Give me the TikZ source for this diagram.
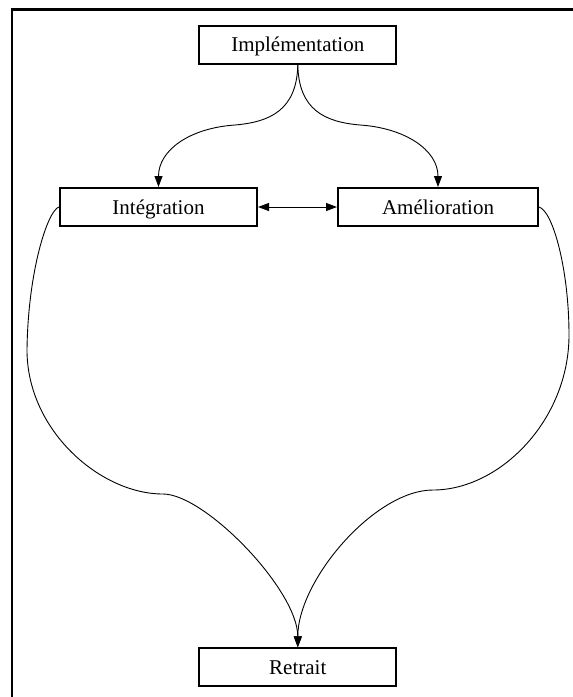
\documentclass[tikz,border=0pt]{standalone}
\usepackage{fontspec}
\setmainfont{Liberation Serif}
\usetikzlibrary{arrows.meta}
\begin{document}
\begin{tikzpicture}[x=1pt,y=-1pt,
  box/.style={draw,line width=2pt,minimum width=197pt,minimum height=38pt,inner sep=0pt,
    text height=17pt,text depth=3pt,
    font=\fontsize{21}{25}\selectfont},
  conn/.style={line width=0.9pt,-{Triangle[length=11pt,width=8pt]}},
  frame/.style={line width=2.6pt}]
\useasboundingbox (0,0) rectangle (573,697);
\coordinate (fa) at (12,697);
\coordinate (fb) at (12,9.5);
\coordinate (fc) at (573,9.5);
\draw[frame] (fa) -- (fb) -- (fc);
\node[box] (impl) at (297.8,44.5) {Implémentation};
\node[box] (integ) at (158.5,207) {Intégration};
\node[box,minimum width=200pt] (amel) at (438,207) {Amélioration};
\node[box] (retr) at (297.8,667.3) {Retrait};
\draw[conn] (impl.south) .. controls (297,110) and (270,122) .. (235,125)
  .. controls (190,128) and (158.5,150) .. (integ.north);
\draw[conn] (impl.south) .. controls (298.5,110) and (325,122) .. (360,125)
  .. controls (405,128) and (438,150) .. (amel.north);
\draw[line width=0.9pt,{Triangle[length=11pt,width=8pt]}-{Triangle[length=11pt,width=8pt]}] (integ.east) -- (amel.west);
\draw[conn] (integ.west) .. controls (48,210) and (28,270) .. (27,350)
  .. controls (27,430) and (100,494) .. (163,494)
  .. controls (205,494) and (297.8,590) .. (retr.north);
\draw[conn] (amel.east) .. controls (553,211) and (569,270) .. (569,335)
  .. controls (569,420) and (500,490) .. (433,490)
  .. controls (375,490) and (297.8,580) .. (retr.north);
\end{tikzpicture}
\end{document}
